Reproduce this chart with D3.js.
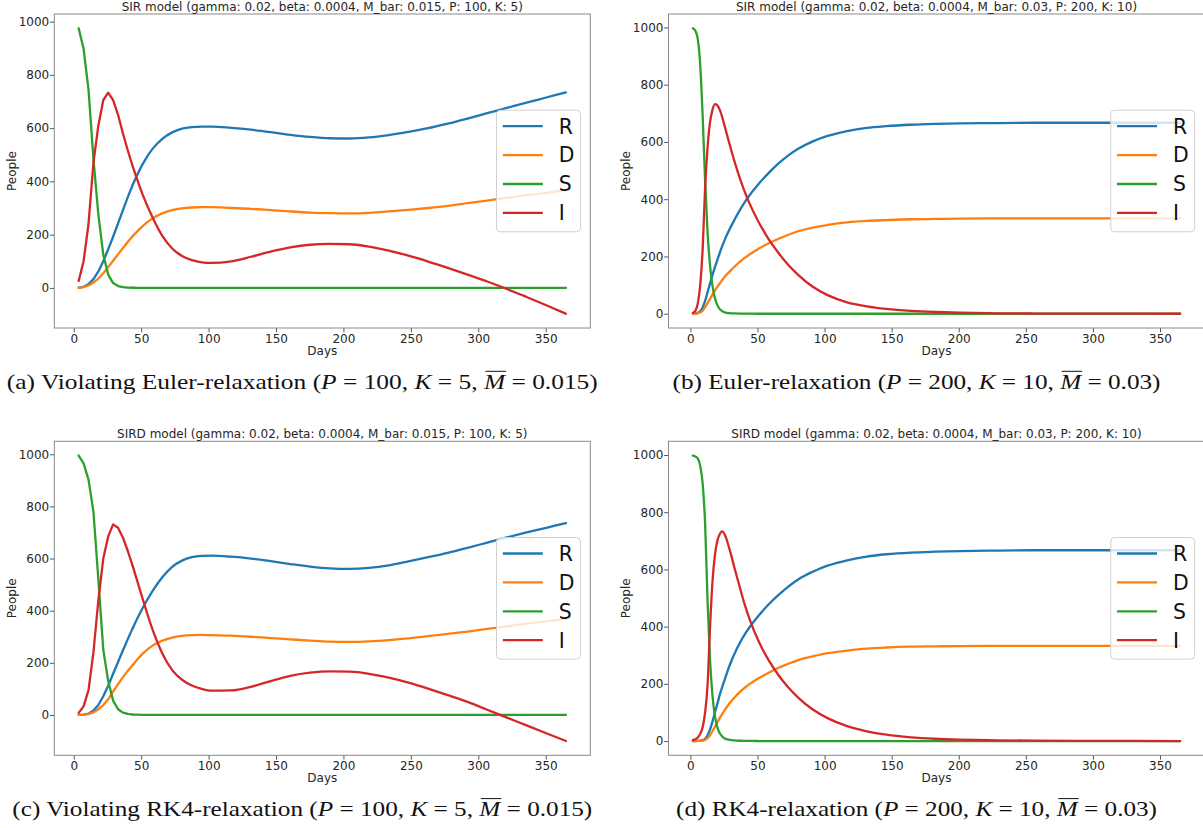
<!DOCTYPE html>
<html lang="en">
<head>
<meta charset="UTF-8" />
<title>SIR / SIRD relaxation runs</title>
<script src="https://cdn.jsdelivr.net/npm/d3@7"></script>
<style>
  body { margin: 0; background: #fff; }
  svg text { font-family: "DejaVu Sans", sans-serif; }
  .tick text { font-size: 12px; fill: #262626; }
  .axis-label, .title { font-size: 12px; fill: #262626; }
  .legend text { font-size: 20.4px; fill: #111; }
  .caption { font-family: "Liberation Serif", "DejaVu Serif", serif; font-size: 21.5px; fill: #111; }
</style>
</head>
<body>
<svg id="fig" width="1203" height="828"></svg>
<script>
// ---- data ----
// P = 100 runs (panels a, c): one sample every 3.65 days
var days100 = [3.65, 7.3, 10.95, 14.6, 18.25, 21.9, 25.55, 29.2, 32.85, 36.5, 40.15, 43.8,
  51.1, 58.4, 65.7, 73, 80.3, 87.6, 94.9, 102.2,
  116.8, 131.4, 146, 160.6, 175.2, 189.8, 204.4, 219, 233.6, 248.2, 262.8, 277.4, 292, 306.6, 321.2, 335.8, 350.4, 365];

// P = 200 runs (panels b, d)
var days200 = [1.825, 3.65, 5.475, 7.3, 9.125, 10.95, 12.775, 14.6, 16.425, 18.25, 20.075, 21.9, 23.725, 25.55,
  29.2, 32.85, 36.5, 40.15, 43.8, 51.1, 58.4, 65.7, 73, 80.3, 91.25, 102.2,
  116.8, 131.4, 146, 164.25, 182.5, 200.75, 228.1, 255.5, 292, 328.5, 365];

// (a) SIR, Euler, P=100 K=5
var rEulerBad = [1, 4, 14, 33, 62, 100, 145, 192, 242, 292, 342, 388,
  465, 522, 560, 584, 598, 604, 606, 606,
  601, 594, 585, 575, 567, 562, 561, 565, 574, 586, 600, 617, 636, 656, 676, 696, 715, 734];
var dEulerBad = [0, 3, 9, 20, 35, 55, 78, 102, 126, 150, 173, 195,
  232, 261, 280, 292, 299, 302, 303, 303,
  300, 297, 292, 287, 283, 281, 280, 282, 287, 293, 300, 308, 318, 328, 338, 348, 357, 367];
var sEulerBad = [975, 898, 745, 485, 275, 125, 50, 18, 7, 3, 1, 0.5,
  0.2, 0, 0, 0, 0, 0, 0, 0,
  0, 0, 0, 0, 0, 0, 0, 0, 0, 0, 0, 0, 0, 0, 0, 0, 0, 0];
var iEulerBad = [26, 100, 240, 470, 610, 705, 733, 705, 650, 580, 515, 455,
  350, 265, 195, 148, 120, 104, 96, 94,
  100, 117, 136, 152, 162, 165, 164, 155, 140, 121, 99, 75, 50, 24, -4, -34, -65, -97];

// (b) SIR, Euler, P=200 K=10
var rEuler = [0, 1, 3, 9, 22, 45, 75, 105, 135, 163, 188, 213, 236, 258,
  295, 328, 359, 387, 412, 455, 492, 525, 553, 576, 602, 621,
  638, 649, 655, 660, 663, 665, 666, 667, 667, 667, 667];
var dEuler = [0, 0.5, 1.5, 4.5, 11, 22, 37, 52, 67, 81, 94, 106, 118, 129,
  147, 164, 180, 194, 206, 228, 246, 262, 276, 288, 301, 310,
  319, 324, 327, 330, 331, 332, 333, 333, 333, 333, 333];
var sEuler = [997, 988, 960, 870, 690, 465, 285, 170, 98, 55, 30, 16, 9, 5,
  2, 1, 0.5, 0.3, 0.2, 0, 0, 0, 0, 0, 0, 0,
  0, 0, 0, 0, 0, 0, 0, 0, 0, 0, 0];
var iEuler = [3, 10, 35, 100, 225, 440, 580, 668, 712, 732, 728, 712, 686, 655,
  592, 532, 478, 430, 388, 318, 260, 212, 170, 136, 94, 65,
  40, 26, 17, 10, 6, 3.5, 1.5, 0.7, 0.2, 0.1, 0];

// (c) SIRD, RK4, P=100 K=5
var rRk4Bad = [0, 1, 5, 17, 38, 72, 112, 158, 203, 248, 292, 334,
  410, 475, 528, 568, 592, 605, 610, 611,
  607, 600, 590, 579, 569, 562, 560, 564, 574, 589, 605, 622, 641, 661, 681, 700, 718, 736];
var dRk4Bad = [0, 1, 3, 10, 22, 38, 60, 90, 118, 145, 170, 192,
  235, 266, 285, 297, 303, 306, 307, 306,
  304, 300, 295, 290, 285, 281, 280, 282, 287, 294, 302, 311, 320, 330, 340, 350, 359, 368];
var sRk4Bad = [995, 965, 903, 780, 520, 250, 130, 55, 22, 9, 4, 1.5,
  0.5, 0, 0, 0, 0, 0, 0, 0,
  0, 0, 0, 0, 0, 0, 0, 0, 0, 0, 0, 0, 0, 0, 0, 0, 0, 0];
var iRk4Bad = [8, 33, 95, 240, 440, 600, 685, 731, 718, 680, 628, 570,
  445, 328, 236, 172, 135, 113, 100, 93,
  94, 108, 130, 150, 162, 167, 166, 158, 143, 124, 101, 76, 50, 20, -10, -40, -70, -100];

// (d) SIRD, RK4, P=200 K=10
var rRk4 = [0, 0, 0.5, 1, 3, 8, 20, 40, 68, 100, 130, 162, 189, 215,
  264, 305, 340, 370, 396, 440, 478, 511, 540, 565, 592, 613,
  632, 645, 653, 659, 662, 664, 666, 667, 667, 667, 667];
var dRk4 = [0, 0, 0.2, 0.5, 1.5, 4, 10, 20, 34, 50, 65, 81, 95, 108,
  132, 152, 170, 185, 198, 220, 239, 256, 270, 283, 296, 307,
  316, 323, 327, 330, 331, 332, 333, 333, 333, 333, 333];
var sRk4 = [998, 995, 988, 962, 900, 760, 490, 285, 160, 88, 48, 27, 16, 9,
  4, 2, 1, 0.5, 0.3, 0, 0, 0, 0, 0, 0, 0,
  0, 0, 0, 0, 0, 0, 0, 0, 0, 0, 0];
var iRk4 = [3, 6, 12, 25, 48, 100, 195, 395, 555, 650, 700, 724, 733, 722,
  670, 605, 543, 482, 430, 346, 282, 230, 187, 152, 110, 80,
  52, 34, 22, 13, 8, 5, 2.5, 1.2, 0.5, 0.2, 0];

var seriesNames = ["R", "D", "S", "I"];
var seriesColors = ["#1f77b4", "#ff7f0e", "#2ca02c", "#d62728"];
var xTicks = [0, 50, 100, 150, 200, 250, 300, 350];
var yTicks = [0, 200, 400, 600, 800, 1000];

var titles = [
  "SIR model (gamma: 0.02, beta: 0.0004, M_bar: 0.015, P: 100, K: 5)",
  "SIR model (gamma: 0.02, beta: 0.0004, M_bar: 0.03, P: 200, K: 10)",
  "SIRD model (gamma: 0.02, beta: 0.0004, M_bar: 0.015, P: 100, K: 5)",
  "SIRD model (gamma: 0.02, beta: 0.0004, M_bar: 0.03, P: 200, K: 10)"
];
// caption pieces: 0 = upright, 1 = italic, 2 = italic with bar
var captions = [
  [["(a) Violating Euler-relaxation (", 0], ["P", 1], [" = 100, ", 0], ["K", 1], [" = 5, ", 0], ["M", 2], [" = 0.015)", 0]],
  [["(b) Euler-relaxation (", 0], ["P", 1], [" = 200, ", 0], ["K", 1], [" = 10, ", 0], ["M", 2], [" = 0.03)", 0]],
  [["(c) Violating RK4-relaxation (", 0], ["P", 1], [" = 100, ", 0], ["K", 1], [" = 5, ", 0], ["M", 2], [" = 0.015)", 0]],
  [["(d) RK4-relaxation (", 0], ["P", 1], [" = 200, ", 0], ["K", 1], [" = 10, ", 0], ["M", 2], [" = 0.03)", 0]]
];
var captionWidths = [591, 488, 580, 481];

// coarse runs keep their straight step segments up to day 43.8
var panels = [
  { days: days100, series: [rEulerBad, dEulerBad, sEulerBad, iEulerBad], left: 54.3, top: 14, stepsUntil: 43.8 },
  { days: days200, series: [rEuler, dEuler, sEuler, iEuler], left: 668.5, top: 14, stepsUntil: 0 },
  { days: days100, series: [rRk4Bad, dRk4Bad, sRk4Bad, iRk4Bad], left: 54.3, top: 441.3, stepsUntil: 43.8 },
  { days: days200, series: [rRk4, dRk4, sRk4, iRk4], left: 668.5, top: 441.3, stepsUntil: 0 }
];

// ---- drawing ----
var W = 536, H = 314;
var svg = d3.select("#fig");
svg.append("rect").attr("width", 1203).attr("height", 828).attr("fill", "#fff");

panels.forEach(function (p, k) {
  var g = svg.append("g").attr("transform", "translate(" + p.left + "," + p.top + ")");

  // matplotlib-style 5% margins around the data
  var xExt = d3.extent(p.days);
  var yExt = d3.extent(d3.merge(p.series));
  var xPad = (xExt[1] - xExt[0]) * 0.05, yPad = (yExt[1] - yExt[0]) * 0.05;
  var x = d3.scaleLinear().domain([xExt[0] - xPad, xExt[1] + xPad]).range([0, W]);
  var y = d3.scaleLinear().domain([yExt[0] - yPad, yExt[1] + yPad]).range([H, 0]);

  var xAxis = g.append("g").attr("transform", "translate(0," + H + ")")
    .attr("color", "#555")
    .call(d3.axisBottom(x).tickValues(xTicks).tickFormat(d3.format("d")).tickSize(4.3).tickPadding(2.2));
  var yAxis = g.append("g").attr("color", "#555")
    .call(d3.axisLeft(y).tickValues(yTicks).tickFormat(d3.format("d")).tickSize(4.3).tickPadding(0.8));
  xAxis.select(".domain").remove();
  yAxis.select(".domain").remove();

  g.append("rect").attr("width", W).attr("height", H)
    .attr("fill", "none").attr("stroke", "#8a8a8a").attr("stroke-width", 1);

  var stepLine = d3.line().curve(d3.curveLinear)
    .x(function (d) { return x(d[0]); }).y(function (d) { return y(d[1]); });
  var smoothLine = d3.line().curve(d3.curveMonotoneX)
    .x(function (d) { return x(d[0]); }).y(function (d) { return y(d[1]); });

  p.series.forEach(function (vals, j) {
    var pts = vals.map(function (v, i) { return [p.days[i], v]; });
    var early = pts.filter(function (d) { return d[0] <= p.stepsUntil; });
    var late = pts.filter(function (d) { return d[0] >= p.stepsUntil; });
    [early, late].forEach(function (part, n) {
      if (part.length < 2) return;
      g.append("path").datum(part)
        .attr("d", n === 0 ? stepLine : smoothLine)
        .attr("fill", "none")
        .attr("stroke", seriesColors[j])
        .attr("stroke-width", 2.3)
        .attr("stroke-linejoin", "round")
        .attr("stroke-linecap", "round");
    });
  });

  g.append("text").attr("class", "title")
    .attr("x", W / 2).attr("y", -3)
    .attr("text-anchor", "middle").text(titles[k]);
  g.append("text").attr("class", "axis-label")
    .attr("x", W / 2).attr("y", H + 26.8)
    .attr("text-anchor", "middle").text("Days");
  g.append("text").attr("class", "axis-label")
    .attr("transform", "translate(-38.5," + (H / 2) + ") rotate(-90)")
    .attr("text-anchor", "middle").text("People");

  // legend, center right
  var lw = 84, lh = 121.6;
  var leg = g.append("g").attr("class", "legend")
    .attr("transform", "translate(" + (W - 9.8 - lw) + "," + (H / 2 - lh / 2) + ")");
  leg.append("rect").attr("width", lw).attr("height", lh).attr("rx", 4)
    .attr("fill", "#fff").attr("fill-opacity", 0.8)
    .attr("stroke", "#d0d0d0").attr("stroke-width", 1);
  seriesNames.forEach(function (name, j) {
    var ry = 16 + j * 28.9;
    leg.append("line").attr("x1", 6.3).attr("x2", 46.3).attr("y1", ry).attr("y2", ry)
      .attr("stroke", seriesColors[j]).attr("stroke-width", 2.3);
    leg.append("text").attr("x", 62.3).attr("y", ry + 7.4).text(name);
  });

  // sub-figure caption
  var cap = svg.append("text").attr("class", "caption")
    .attr("x", p.left + W / 2 - 20).attr("y", p.top + 374.6)
    .attr("text-anchor", "middle");
  var barIndex = -1, pos = 0;
  captions[k].forEach(function (seg) {
    var t = cap.append("tspan").text(seg[0]);
    if (seg[1] > 0) t.attr("font-style", "italic");
    if (seg[1] === 2) barIndex = pos;
    pos += seg[0].length;
  });
  cap.attr("textLength", captionWidths[k]).attr("lengthAdjust", "spacingAndGlyphs");
  if (barIndex >= 0) {
    var box = cap.node().getExtentOfChar(barIndex);
    var by = p.top + 374.6 - 17.3;
    svg.append("line")
      .attr("x1", box.x + 1.5).attr("x2", box.x + box.width + 1)
      .attr("y1", by).attr("y2", by)
      .attr("stroke", "#111").attr("stroke-width", 1);
  }
});
</script>
</body>
</html>
